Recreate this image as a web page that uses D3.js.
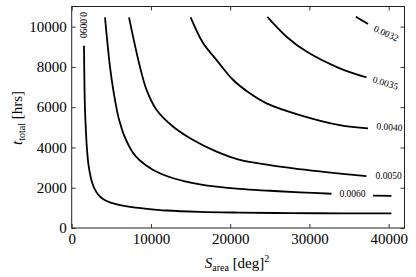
<!DOCTYPE html>
<html><head><meta charset="utf-8">
<script src="https://cdn.jsdelivr.net/npm/d3@7"></script>
<style>
html,body{margin:0;padding:0;background:#fff;}
svg{display:block;}
</style></head>
<body>
<script>
// ---- data (S_area [deg^2], t_total [hrs]) ----
const xTicks = [0, 10000, 20000, 30000, 40000];
const yTicks = [0, 2000, 4000, 6000, 8000, 10000];

const c0090 = [[1552,9053],[1615,6977],[1678,5885],[1805,4728],[1931,3889],[2120,3134],[2309,2697],[2562,2274],[2940,1902],[3319,1669],[3950,1440],[4833,1271],[6095,1137],[7357,1053],[8998,978],[11990,869],[16190,800],[21220,765],[27530,740],[34000,730],[40350,728]];
const c0060a = [[4200,10460],[4830,8010],[5250,6850],[5880,5530],[6108,5210],[6512,4703],[7774,3710],[8610,3350],[10290,2880],[12810,2470],[16180,2170],[21220,1940],[25000,1850],[28800,1770],[32790,1700]];
const c0060b = [[38030,1610],[40350,1600]];
const c0050 = [[7230,10460],[8610,8010],[9460,6850],[10720,5860],[12810,5030],[15330,4370],[18290,3790],[21220,3380],[25010,3120],[28000,2960],[31310,2810],[34500,2680],[37200,2580]];
const c0040 = [[15010,10460],[16600,9170],[18290,8340],[20380,7350],[22480,6690],[24590,6190],[28790,5610],[33830,5110],[37400,4950]];
const c0035 = [[24690,10480],[27110,9500],[29630,8760],[33830,7930],[37200,7480]];
const c0032 = [[35860,10490],[37400,10130]];

const contourLabels = ["0.0090","0.0060","0.0050","0.0040","0.0035","0.0032"];
const labelS = [1460, 35440, 40000, 40100, 39600, 39700];
const labelT = [10080, 1690, 2580, 5020, 7210, 9670];
const labelRot = [90, 0, 0, 4, 17, 24];

const FONT = '"Liberation Serif", "Times New Roman", Times, serif';
const W = 416, H = 277;
const svg = d3.select("body").append("svg").attr("width", W).attr("height", H);

const x = d3.scaleLinear().domain([0, 42000]).range([71.7, 404.5]);
const y = d3.scaleLinear().domain([0, 11000]).range([228, 6.5]);

const line = d3.line().x(d => x(d[0])).y(d => y(d[1])).curve(d3.curveCatmullRom.alpha(0.5));

[c0090, c0060a, c0060b, c0050, c0040, c0035, c0032].forEach(c => {
  svg.append("path").attr("d", line(c)).attr("fill", "none")
    .attr("stroke", "#000").attr("stroke-width", 1.8);
});

contourLabels.forEach((lab, i) => {
  const px = x(labelS[i]), py = y(labelT[i]);
  svg.append("text")
    .attr("transform", `translate(${px},${py}) rotate(${labelRot[i]})`)
    .attr("text-anchor", "middle").attr("dy", "0.35em")
    .style("font-family", FONT).style("font-size", "9.5px").text(lab);
});

// axes: ticks inside on all four sides
const fs = 15;
function styleAxis(g) {
  g.select(".domain").remove();
  g.attr("font-family", null);
  g.selectAll(".tick line").attr("stroke", "#000").attr("stroke-width", 0.8);
  g.selectAll("text").style("font-size", fs + "px").style("font-family", FONT).attr("fill", "#000");
}
svg.append("g").attr("transform", `translate(0,${y(0)})`)
  .call(d3.axisBottom(x).tickValues(xTicks).tickFormat(d3.format("d")).tickSizeInner(-4).tickSizeOuter(0).tickPadding(5))
  .call(styleAxis);
svg.append("g").attr("transform", `translate(0,${y(11000)})`)
  .call(d3.axisTop(x).tickValues(xTicks).tickFormat("").tickSizeInner(-4).tickSizeOuter(0))
  .call(styleAxis);
svg.append("g").attr("transform", `translate(${x(0)},0)`)
  .call(d3.axisLeft(y).tickValues(yTicks).tickFormat(d3.format("d")).tickSizeInner(-4).tickSizeOuter(0).tickPadding(5))
  .call(styleAxis);
svg.append("g").attr("transform", `translate(${x(42000)},0)`)
  .call(d3.axisRight(y).tickValues(yTicks).tickFormat("").tickSizeInner(-4).tickSizeOuter(0))
  .call(styleAxis);

// frame
svg.append("rect").attr("x", x(0)).attr("y", y(11000))
  .attr("width", x(42000) - x(0)).attr("height", y(0) - y(11000))
  .attr("fill", "none").attr("stroke", "#222").attr("stroke-width", 1);

// axis labels
const xl = svg.append("text").attr("x", 237).attr("y", 268).attr("text-anchor", "middle")
  .style("font-family", FONT).style("font-size", fs + "px");
xl.append("tspan").style("font-style", "italic").text("S");
xl.append("tspan").style("font-size", "10px").attr("dy", 3).text("area");
xl.append("tspan").attr("dy", -3).text(" [deg]");
xl.append("tspan").style("font-size", "10px").attr("dy", -6).text("2");

const yl = svg.append("text").attr("transform", "translate(22,118) rotate(-90)")
  .attr("text-anchor", "middle").style("font-family", FONT).style("font-size", fs + "px");
yl.append("tspan").style("font-style", "italic").text("t");
yl.append("tspan").style("font-size", "10px").attr("dy", 3).text("total");
yl.append("tspan").attr("dy", -3).text(" [hrs]");
</script>
</body></html>
